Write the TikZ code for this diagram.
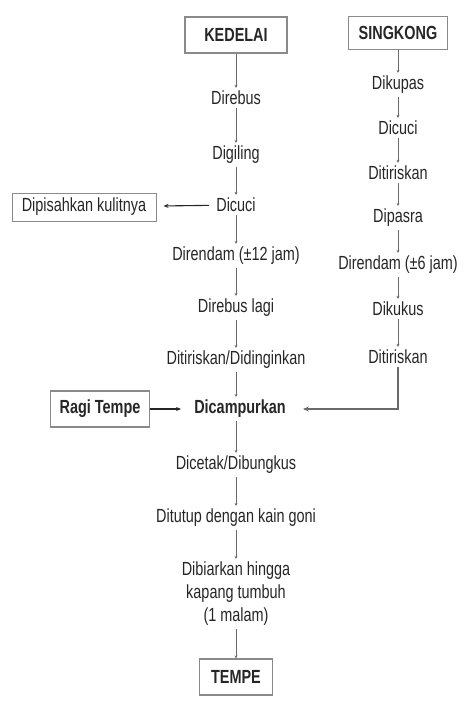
\documentclass[tikz,border=0pt]{standalone}
\usepackage{fontspec}
\setmainfont[FakeStretch=0.76]{Liberation Sans}
\usetikzlibrary{arrows.meta}
\definecolor{txt}{HTML}{262626}
\definecolor{ln}{HTML}{6A6A6A}
\definecolor{bx}{HTML}{8A8A8A}
\begin{document}
\begin{tikzpicture}[x=1pt,y=-1pt,
  lbl/.style={font=\fontsize{19}{23}\selectfont, text=txt, inner sep=3pt, align=center},
  boxed/.style={draw=bx, line width=1.1pt, font=\fontsize{19}{23}\selectfont\bfseries, text=txt, minimum height=36pt},
  sbox/.style={draw=bx, line width=1pt, font=\fontsize{19}{23}\selectfont, text=txt, minimum height=28pt},
  vline/.style={draw=ln, line width=0.7pt, -{Stealth[length=3pt,width=3pt]}},
  hline/.style={draw=txt, line width=1.1pt, -{Stealth[length=5pt,width=4pt]}},
  rline/.style={draw=ln, line width=1.8pt, -{Stealth[length=6pt,width=5pt]}}]
\useasboundingbox (0,0) rectangle (474,712);
% left column
\node[boxed, minimum width=102pt] (kedelai) at (236,35) {KEDELAI};
\node[lbl] (l1) at (236,98) {Direbus};
\node[lbl] (l2) at (236,155) {Digiling};
\node[lbl] (l3) at (236,205) {Dicuci};
\node[lbl] (l4) at (236,256) {Direndam (±12 jam)};
\node[lbl] (l5) at (236,308) {Direbus lagi};
\node[lbl] (l6) at (236,360) {Ditiriskan/Didinginkan};
\node[lbl, font=\fontsize{19}{23}\selectfont\bfseries] (mix) at (240,409) {Dicampurkan};
\node[lbl] (l8) at (236,465) {Dicetak/Dibungkus};
\node[lbl] (l9) at (236,518) {Ditutup dengan kain goni};
\node[lbl] (l10) at (236,594) {Dibiarkan hingga\\kapang tumbuh\\(1 malam)};
\node[boxed, minimum width=73pt] (tempe) at (236,677) {TEMPE};
% side boxes
\node[sbox, minimum width=144pt] (kulit) at (84,207) {Dipisahkan kulitnya};
\node[boxed, minimum width=99pt] (ragi) at (100,409) {Ragi Tempe};
% right column
\node[boxed, minimum width=99pt, minimum height=33pt] (singkong) at (398,33) {SINGKONG};
\node[lbl] (r1) at (398,85) {Dikupas};
\node[lbl] (r2) at (398,128) {Dicuci};
\node[lbl] (r3) at (398,173) {Ditiriskan};
\node[lbl] (r4) at (398,218) {Dipasra};
\node[lbl] (r5) at (398,265) {Direndam (±6 jam)};
\node[lbl] (r6) at (398,309) {Dikukus};
\node[lbl] (r7) at (398,357) {Ditiriskan};
% connectors left
\draw[vline] (kedelai) -- (l1);
\draw[vline] (l1) -- (l2);
\draw[vline] (l2) -- (l3);
\draw[vline] (l3) -- (l4);
\draw[vline] (l4) -- (l5);
\draw[vline] (l5) -- (l6);
\draw[vline] (l6.south -| kedelai) -- (mix.north -| kedelai);
\draw[vline] (mix.south -| kedelai) -- (l8.north -| kedelai);
\draw[vline] (l8) -- (l9);
\draw[vline] (l9) -- (l10);
\draw[vline] (l10) -- (tempe);
% connectors right
\draw[vline] (singkong) -- (r1);
\draw[vline] (r1) -- (r2);
\draw[vline] (r2) -- (r3);
\draw[vline] (r3) -- (r4);
\draw[vline] (r4) -- (r5);
\draw[vline] (r5) -- (r6);
\draw[vline] (r6) -- (r7);
% horizontal
\draw[hline, shorten <=4pt, shorten >=7pt] (l3) -- (kulit);
\draw[hline, shorten >=10pt] (ragi) -- (mix);
\draw[rline, shorten >=14pt] (r7.south) |- (mix.east);
\end{tikzpicture}
\end{document}
